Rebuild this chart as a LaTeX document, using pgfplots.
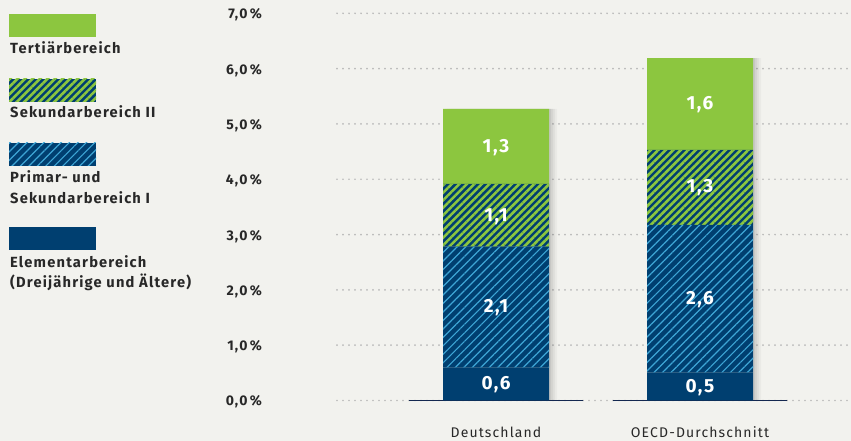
\documentclass[border=0pt]{standalone}
\usepackage{fontspec}
\setmainfont{Fira Sans}
\newfontfamily\lsfont[LetterSpace=8]{Fira Sans}
\usepackage{pgfplots}
\pgfplotsset{compat=1.18}
\usepackage{pgfplotstable}
\usetikzlibrary{patterns.meta}

\definecolor{bg}{RGB}{242,242,238}
\definecolor{navy}{RGB}{0,63,112}
\definecolor{lblue}{RGB}{62,166,214}
\definecolor{lgreen}{RGB}{140,198,63}
\definecolor{dotgray}{RGB}{185,185,185}
\definecolor{txt}{RGB}{40,40,40}
\definecolor{baseln}{RGB}{20,40,80}

\pgfplotstableread{
x    elem   prim   sek    tert
159  0.593  2.187  1.135  1.357
363  0.503  2.671  1.356  1.660
}\bars

\pgfplotstableread{
x    tot    zero
159  5.272  0
363  6.190  0
}\totals

\pgfplotstableread{
x    y      lab
159  0.28   0,6
159  1.67   2,1
159  3.33   1,1
159  4.57   1,3
363  0.23   0,5
363  1.82   2,6
363  3.84   1,3
363  5.35   1,6
}\labels

\pgfplotsset{base/.style={
  at={(337pt,40.5pt)}, anchor=south west,
  scale only axis, width=514pt, height=387.2pt,
  xmin=0, xmax=514, ymin=0, ymax=7,
  axis line style={draw=none}, tick style={draw=none},
  xtick=\empty, ytick=\empty,
}}

\newcommand{\lfont}{\fontsize{14.7}{16}\selectfont\lsfont\bfseries}
\newcommand{\tfont}{\fontsize{14}{16}\selectfont\lsfont\bfseries}

\begin{document}
\begin{tikzpicture}
\path[use as bounding box, fill=bg] (0,0) rectangle (851pt,441pt);

% underlay: grid, tick labels, shadows, baselines
\begin{axis}[base, clip=false,
  ytick={0,1,2,3,4,5,6,7},
  yticklabels={{0,0\,\%},{1,0\,\%},{2,0\,\%},{3,0\,\%},{4,0\,\%},{5,0\,\%},{6,0\,\%},{7,0\,\%}},
  xtick={159,363}, xticklabels={Deutschland,OECD-Durchschnitt},
  ymajorgrids,
  grid style={dotgray, line width=1.9pt, dash pattern=on 0pt off 6pt, line cap=round},
  yticklabel style={anchor=base east, inner sep=0pt, xshift=-75pt, yshift=-5.5pt, font=\tfont, text=txt},
  xticklabel style={anchor=base, inner sep=0pt, yshift=-37.5pt, font=\fontsize{14}{16}\selectfont\lsfont, text=txt},
]
\addplot[ybar, bar width=106pt, bar shift=2pt, fill=black, fill opacity=0.06, draw=none] table[x=x,y=tot]{\totals};
\addplot[ybar, bar width=106pt, bar shift=4pt, fill=black, fill opacity=0.05, draw=none] table[x=x,y=tot]{\totals};
\addplot[ybar, bar width=106pt, bar shift=6pt, fill=black, fill opacity=0.04, draw=none] table[x=x,y=tot]{\totals};
\addplot[ybar, bar width=106pt, bar shift=8pt, fill=black, fill opacity=0.03, draw=none] table[x=x,y=tot]{\totals};
\addplot[ybar, bar width=174pt, bar shift=0pt, draw=baseln, line width=1.2pt, fill=none] table[x=x,y=zero]{\totals};
\end{axis}

% stacked bars
\begin{axis}[base, ybar stacked, bar width=106pt]
\addplot[fill=navy, draw=none] table[x=x,y=elem]{\bars};
\addplot[fill=navy, draw=none, postaction={pattern={Lines[angle=45,distance=6pt,line width=1.2pt]}, pattern color=lblue}] table[x=x,y=prim]{\bars};
\addplot[fill=navy, draw=none, postaction={pattern={Lines[angle=45,distance=5.3pt,line width=2.6pt]}, pattern color=lgreen}] table[x=x,y=sek]{\bars};
\addplot[fill=lgreen, draw=none] table[x=x,y=tert]{\bars};
\end{axis}

% value labels
\begin{axis}[base]
\addplot[only marks, mark=none, nodes near coords, point meta=explicit symbolic,
  nodes near coords style={anchor=center, text=white, inner sep=0pt, font=\fontsize{19}{21}\selectfont\lsfont\bfseries}]
  table[x=x,y=y,meta=lab]{\labels};
\end{axis}

% legend
\fill[lgreen] (9pt,404pt) rectangle (96pt,427pt);
\fill[navy] (9pt,339.3pt) rectangle (96pt,362pt);
\fill[pattern={Lines[angle=45,distance=5.3pt,line width=2.6pt]}, pattern color=lgreen] (9pt,339.3pt) rectangle (96pt,362pt);
\fill[navy] (9pt,275.3pt) rectangle (96pt,298.3pt);
\fill[pattern={Lines[angle=45,distance=6pt,line width=1.2pt]}, pattern color=lblue] (9pt,275.3pt) rectangle (96pt,298.3pt);
\fill[navy] (9pt,191.3pt) rectangle (96pt,214.3pt);
\begin{scope}[every node/.style={anchor=base west, inner sep=0pt, font=\lfont, text=txt}]
\node at (10pt,387.7pt) {Tertiärbereich};
\node at (10pt,323pt) {Sekundarbereich II};
\node at (10pt,258.3pt) {Primar- und};
\node at (10pt,237.7pt) {Sekundarbereich I};
\node at (10pt,173.3pt) {Elementarbereich};
\node at (10pt,153.7pt) {(Dreijährige und Ältere)};
\end{scope}
\end{tikzpicture}
\end{document}
